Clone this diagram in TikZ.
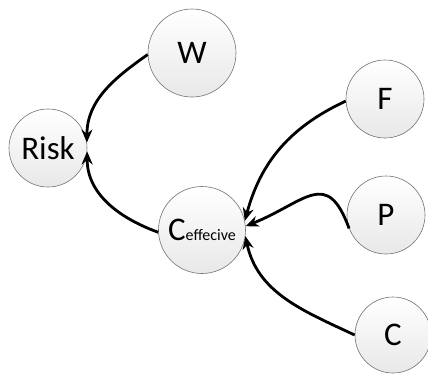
\documentclass[tikz,border=0pt]{standalone}
\usepackage{fontspec}
\setmainfont{Carlito}
\usetikzlibrary{arrows.meta}
\begin{document}
\begin{tikzpicture}[x=1pt,y=-1pt,
  bub/.style={circle,draw=black!55,line width=0.6pt,top color=white,bottom color=black!9,inner sep=0pt,font=\fontsize{33}{35}\selectfont},
  link/.style={line width=2.8pt,-{Stealth[length=13pt,width=11pt]}}]
\useasboundingbox (0,0) rectangle (428,373);
\node[bub,minimum size=88pt] (W) at (192,53) {W};
\node[bub,minimum size=78pt] (R) at (48,148) {Risk};
\node[bub,minimum size=87pt] (E) at (202,230) {C\fontsize{16}{18}\selectfont effecive};
\node[bub,minimum size=78pt] (F) at (385,99) {F};
\node[bub,minimum size=78pt] (P) at (386,215) {P};
\node[bub,minimum size=76pt] (C) at (393,335) {C};
\draw[link] (W.182) to[out=215,in=90] (R.8);
\draw[link] (E.183) to[out=160,in=-90] (R.-5);
\draw[link] (F.183) to[out=205,in=75] (E.12);
\draw[link] (P.200) to[out=110,in=22,looseness=1.6] (E.5);
\draw[link] (C.180) to[out=155,in=-78] (E.-8);
\end{tikzpicture}
\end{document}
